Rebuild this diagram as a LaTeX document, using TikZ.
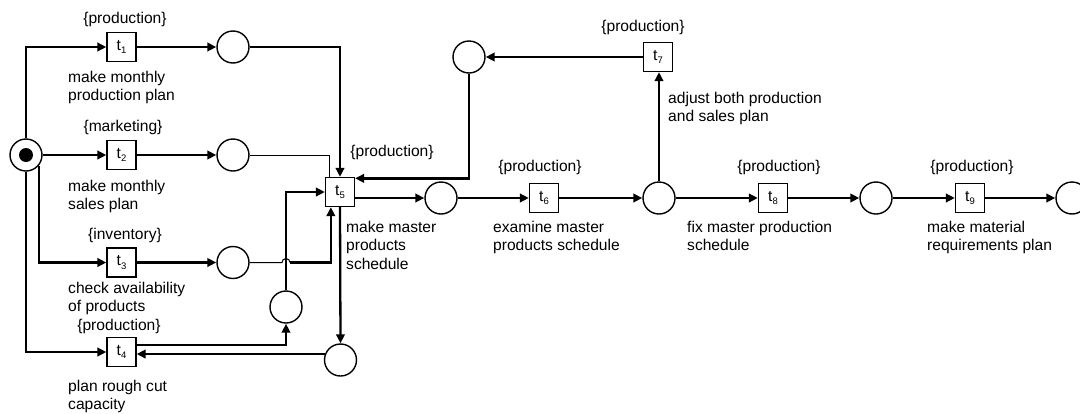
\documentclass[tikz,border=0pt]{standalone}
\usepackage{fontspec}
\setmainfont{Liberation Sans}
\usetikzlibrary{arrows.meta}
\newcommand\tsub[1]{t\raisebox{-3.5pt}{\fontsize{9.5}{9.5}\selectfont #1}}
\begin{document}
\begin{tikzpicture}[x=1pt,y=-1pt,
  place/.style={circle,draw,line width=1.4pt,minimum size=32pt,inner sep=0pt},
  trans/.style={rectangle,draw,line width=1.3pt,minimum size=29pt,inner sep=0pt,font=\fontsize{15.6}{18}\selectfont},
  flow/.style={line width=2.3pt,-{Triangle[length=9pt,width=8.5pt]}},
  thinarc/.style={line width=1pt},
  grp/.style={font=\fontsize{15.6}{18}\selectfont,inner sep=0pt},
  desc/.style={font=\fontsize{15.6}{18.3}\selectfont,inner sep=0pt,anchor=north west,align=left},
]
\fill[white] (0,0) rectangle (1080,413);
\useasboundingbox (0,0) rectangle (1080,413);

% places and transitions
\node[place] (p0) at (26,155) {};
\fill (p0.center) circle[radius=7pt];
\node[trans] (t1) at (121.5,47) {\tsub1};
\node[trans] (t2) at (121.5,155) {\tsub2};
\node[trans] (t3) at (121.5,262.5) {\tsub3};
\node[trans] (t4) at (121.5,352) {\tsub4};
\node[place] (p1) at (233,47) {};
\node[place] (p2) at (233,155) {};
\node[place] (p3) at (233,262.5) {};
\node[place] (pm) at (286,307) {};
\node[trans] (t5) at (340,192) {\tsub5};
\node[place] (pb) at (340.5,360) {};
\node[place] (p4) at (441,198) {};
\node[trans] (t6) at (544,198) {\tsub6};
\node[place] (p5) at (659,198) {};
\node[trans] (t7) at (658,57) {\tsub7};
\node[place] (ptop) at (469,57) {};
\node[trans] (t8) at (773,198) {\tsub8};
\node[place] (p6) at (876,198) {};
\node[trans] (t9) at (970,198) {\tsub9};
\node[place] (p7) at (1072,198) {};

% role labels
\node[grp] (g1) at (125,19) {\{production\}};
\node[grp] (g2) at (123,127) {\{marketing\}};
\node[grp] (g3) at (125,235) {\{inventory\}};
\node[grp] (g4) at (119,326) {\{production\}};
\node[grp] (g5) at (392,152) {\{production\}};
\node[grp] (g6) at (540,167) {\{production\}};
\node[grp] (g7) at (643,27) {\{production\}};
\node[grp] (g8) at (779,167) {\{production\}};
\node[grp] (g9) at (972,167) {\{production\}};

% task descriptions
\node[desc] (d1) at (68,71) {make monthly\\production plan};
\node[desc] (d2) at (68,180) {make monthly\\sales plan};
\node[desc] (d3) at (68,282) {check availability\\of products};
\node[desc] (d4) at (68,380) {plan rough cut\\capacity};
\node[desc] (d5) at (346,221) {make master\\products\\schedule};
\node[desc] (d6) at (493,221) {examine master\\products schedule};
\node[desc] (d7) at (668,92) {adjust both production\\and sales plan};
\node[desc] (d8) at (687,221) {fix master production\\schedule};
\node[desc] (d9) at (927,221) {make material\\requirements plan};

% arcs from the initial place
\draw[flow] (p0.north) |- (t1.west);
\draw[flow] (p0.east) -- (t2.west);
\draw[flow] (p0.-40) |- (t3.west);
\draw[flow] (p0.south) |- (t4.west);

\draw[flow] (t1.east) -- (p1.west);
\draw[flow] (t2.east) -- (p2.west);
\draw[flow] (t3.east) -- (p3.west);

% inputs of t5
\draw[flow] (p1.east) -| (t5.north);
\draw[thinarc] (p2.east) -| ([xshift=4.5pt]t5.north west);
\coordinate (hop) at (pm.center |- p3.east);
\draw[thinarc] (p3.east) -- ([xshift=-4pt]hop) arc[start angle=180,end angle=0,radius=4pt];
\draw[flow] ([xshift=4pt]hop) -| ([xshift=6pt]t5.south west);
\draw[flow] (pm.north) |- (t5.west);
\draw[flow] (ptop.south) |- ([yshift=-1.5pt]t5.north east);

% rough cut capacity loop
\draw[flow] (t5.south) -- (pb.north);
\draw[flow] (pb.159) -- (pb.159 -| t4.east);
\draw[flow] ([yshift=7pt]t4.east) -| (pm.south);

% main chain
\draw[flow] (t5.east |- p4.west) -- (p4.west);
\draw[flow] (p4.east) -- (t6.west);
\draw[flow] (t6.east) -- (p5.west);
\draw[flow] (p5.north) -- (p5.north |- t7.south);
\draw[flow] (t7.west) -- (ptop.east);
\draw[flow] (p5.east) -- (t8.west);
\draw[flow] (t8.east) -- (p6.west);
\draw[flow] (p6.east) -- (t9.west);
\draw[flow] (t9.east) -- (p7.west);
\end{tikzpicture}
\end{document}
